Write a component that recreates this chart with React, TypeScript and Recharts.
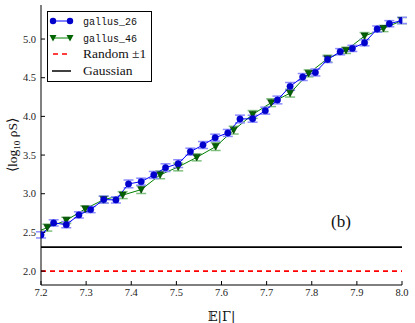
import React from 'react';
import { LineChart, Line, XAxis, YAxis, ReferenceLine, ErrorBar } from 'recharts';

// gallus_26 : blue circles
const g26X = [7.2, 7.228, 7.256, 7.284, 7.31, 7.339, 7.366, 7.394, 7.422, 7.45, 7.476, 7.504, 7.531, 7.559, 7.586,
  7.614, 7.641, 7.669, 7.697, 7.724, 7.752, 7.78, 7.808, 7.835, 7.863, 7.89, 7.917, 7.945, 7.972, 8.0];
const g26Y = [2.468, 2.623, 2.6, 2.726, 2.795, 2.924, 2.92, 3.127, 3.156, 3.243, 3.337, 3.389, 3.544, 3.63, 3.725,
  3.786, 3.966, 3.97, 4.074, 4.212, 4.388, 4.509, 4.568, 4.736, 4.836, 4.879, 4.952, 5.129, 5.198, 5.24];
const g26Err = [0.04, 0.04, 0.04, 0.04, 0.04, 0.045, 0.04, 0.05, 0.045, 0.045, 0.05, 0.05, 0.045, 0.045, 0.045,
  0.045, 0.05, 0.045, 0.045, 0.05, 0.05, 0.045, 0.045, 0.04, 0.04, 0.04, 0.04, 0.04, 0.04, 0.04];

// gallus_46 : green triangles (first point lies left of the axis, only its segment shows)
const g46X = [7.159, 7.214, 7.256, 7.298, 7.339, 7.381, 7.422, 7.464, 7.504, 7.545, 7.587, 7.627, 7.669, 7.71,
  7.752, 7.793, 7.835, 7.876, 7.917, 7.959, 8.0];
const g46Y = [2.43, 2.562, 2.656, 2.804, 2.924, 2.982, 3.053, 3.244, 3.346, 3.47, 3.609, 3.822, 4.025, 4.177,
  4.3, 4.556, 4.746, 4.853, 5.039, 5.136, 5.239];
const g46Err = [null, 0.045, 0.04, 0.04, 0.045, 0.045, 0.05, 0.05, 0.05, 0.045, 0.05, 0.05, 0.05, 0.05,
  0.05, 0.045, 0.045, 0.04, 0.045, 0.04, 0.04];

const randomLevel = 2.0;
const gaussianLevel = 2.31;

const xTicks = [7.2, 7.3, 7.4, 7.5, 7.6, 7.7, 7.8, 7.9, 8.0];
const yTicks = [2.0, 2.5, 3.0, 3.5, 4.0, 4.5, 5.0];

const data26 = g26X.map((x, i) => ({ x, y: g26Y[i], err: g26Err[i] }));
const data46 = g46X.map((x, i) => ({ x, y: g46Y[i], err: g46Err[i] }));

const tickFont = { fontFamily: '"Liberation Serif", serif', fontSize: 10.5, fill: '#222' };

const TriangleDot = (props: any) => {
  const { cx, cy, index } = props;
  if (cx == null || cy == null) return null;
  return (
    <polygon
      key={`t-${index}`}
      points={`${cx - 3.5},${cy - 3} ${cx + 3.5},${cy - 3} ${cx},${cy + 3.5}`}
      fill="#006400"
      stroke="#003300"
      strokeWidth={0.6}
    />
  );
};

function LegendBox() {
  const row = (y: number, marker: React.ReactNode, label: React.ReactNode) => (
    <g key={y}>
      {marker}
      <text x={36} y={y + 4} style={{ fontSize: 13.5, fontFamily: '"Liberation Serif", serif' }} fill="#111">
        {label}
      </text>
    </g>
  );
  const mono = { fontFamily: '"Liberation Mono", monospace', fontSize: 10 };
  return (
    <div style={{ position: 'absolute', left: 47, top: 11, width: 105, height: 71, border: '1px solid #000', background: '#fff', boxSizing: 'border-box' }}>
      <svg width={105} height={71} style={{ position: 'absolute', left: -1, top: -1 }}>
        {row(
          10,
          <g>
            <line x1={6} y1={10} x2={23} y2={10} stroke="#0000ff" strokeWidth={1} />
            <circle cx={6} cy={10} r={3.2} fill="#0000cc" />
            <circle cx={23} cy={10} r={3.2} fill="#0000cc" />
          </g>,
          <tspan style={mono}>gallus_26</tspan>
        )}
        {row(
          27,
          <g>
            <line x1={6} y1={27} x2={23} y2={27} stroke="#008000" strokeWidth={1} />
            <polygon points="2.5,24 9.5,24 6,30.5" fill="#006400" />
            <polygon points="19.5,24 26.5,24 23,30.5" fill="#006400" />
          </g>,
          <tspan style={mono}>gallus_46</tspan>
        )}
        {row(
          43,
          <line x1={6} y1={43} x2={24} y2={43} stroke="#ff0000" strokeWidth={1.5} strokeDasharray="5 4" />,
          'Random ±1'
        )}
        {row(60, <line x1={5} y1={60} x2={24} y2={60} stroke="#000" strokeWidth={1.5} />, 'Gaussian')}
      </svg>
    </div>
  );
}

export default function App() {
  return (
    <div style={{ position: 'absolute', left: 0, top: 0, width: 415, height: 323, background: '#fff' }}>
      <LineChart width={415} height={323} margin={{ top: 5, right: 13, bottom: 0, left: 0 }}>
        <XAxis
          xAxisId="b"
          dataKey="x"
          type="number"
          domain={[7.2, 8.0]}
          allowDataOverflow
          ticks={xTicks}
          tickFormatter={(v: number) => v.toFixed(1)}
          height={38}
          tickSize={-4}
          tickMargin={8}
          stroke="#000"
          tick={tickFont}
          label={{ value: '𝔼|Γ|', position: 'insideBottom', offset: 2, style: { fontFamily: '"DejaVu Serif", serif', fontSize: 13, fill: '#111' } }}
        />
        <XAxis
          xAxisId="t"
          orientation="top"
          dataKey="x"
          type="number"
          domain={[7.2, 8.0]}
          allowDataOverflow
          ticks={xTicks}
          height={0}
          tickSize={-4}
          tick={false}
          stroke="#000"
        />
        <YAxis
          yAxisId="l"
          type="number"
          domain={[1.82, 5.44]}
          allowDataOverflow
          ticks={yTicks}
          tickFormatter={(v: number) => v.toFixed(1)}
          width={41}
          tickSize={-4}
          tickMargin={9}
          stroke="#000"
          tick={tickFont}
        />
        <YAxis
          yAxisId="r"
          orientation="right"
          type="number"
          domain={[1.82, 5.44]}
          allowDataOverflow
          ticks={yTicks}
          width={0}
          tickSize={-4}
          tick={false}
          stroke="#000"
        />
        <ReferenceLine xAxisId="b" yAxisId="l" y={gaussianLevel} stroke="#000" strokeWidth={1.6} />
        <ReferenceLine xAxisId="b" yAxisId="l" y={randomLevel} stroke="#ff0000" strokeWidth={1.6} strokeDasharray="5 4" />
        <Line
          xAxisId="b"
          yAxisId="l"
          data={data46}
          dataKey="y"
          type="linear"
          stroke="#008000"
          strokeWidth={1}
          dot={TriangleDot}
          activeDot={false}
          isAnimationActive={false}
        >
          <ErrorBar dataKey="err" direction="y" width={5} stroke="#7fc07f" strokeWidth={1.5} />
        </Line>
        <Line
          xAxisId="b"
          yAxisId="l"
          data={data26}
          dataKey="y"
          type="linear"
          stroke="#0000ff"
          strokeWidth={1}
          dot={{ r: 3.2, fill: '#0000cc', stroke: '#0000cc', strokeWidth: 0.5 }}
          activeDot={false}
          isAnimationActive={false}
        >
          <ErrorBar dataKey="err" direction="y" width={5} stroke="#8c8cff" strokeWidth={1.5} />
        </Line>
      </LineChart>
      <svg width={30} height={323} style={{ position: 'absolute', left: 0, top: 0 }}>
        <text
          transform="translate(17,145) rotate(-90)"
          textAnchor="middle"
          style={{ fontFamily: '"Liberation Serif", serif', fontSize: 13.5 }}
          fill="#111"
        >
          ⟨log<tspan fontSize={9} dy={3}>10</tspan><tspan dy={-3}> ρ</tspan>S⟩
        </text>
      </svg>
      <LegendBox />
      <div style={{ position: 'absolute', left: 331, top: 212, fontFamily: '"Liberation Serif", serif', fontSize: 17, color: '#111' }}>
        (b)
      </div>
    </div>
  );
}
